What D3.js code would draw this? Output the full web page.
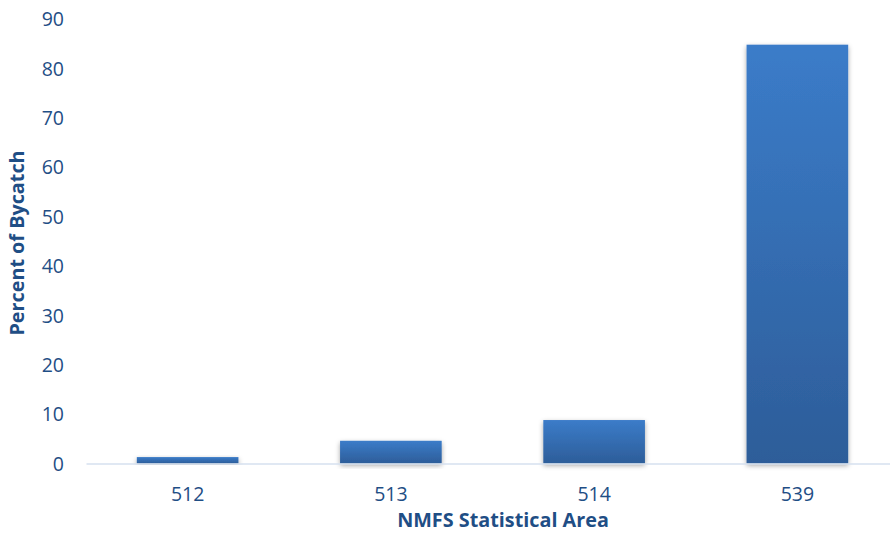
<!DOCTYPE html>
<html>
<head>
<meta charset="utf-8">
<script src="https://cdn.jsdelivr.net/npm/d3@7"></script>
<style>
  body { margin: 0; background: #fff; }
  text { font-family: "Open Sans", sans-serif; fill: #1F4E85; }
</style>
</head>
<body>
<div id="chart"></div>
<script>
// NMFS statistical areas and their share of bycatch (%)
var areas = ["512", "513", "514", "539"];
var percents = [1.3, 4.6, 8.8, 84.8];
var yTicks = [0, 10, 20, 30, 40, 50, 60, 70, 80, 90];

var width = 890, height = 533;

var svg = d3.select("#chart")
  .append("svg")
  .attr("width", width)
  .attr("height", height);

var defs = svg.append("defs");

var grad = defs.append("linearGradient")
  .attr("id", "barGrad")
  .attr("x1", 0).attr("y1", 0)
  .attr("x2", 0).attr("y2", 1);
grad.append("stop").attr("offset", "0%").attr("stop-color", "#3B7CC9");
grad.append("stop").attr("offset", "100%").attr("stop-color", "#2D5D99");

var shadow = defs.append("filter")
  .attr("id", "shadow")
  .attr("x", "-20%").attr("y", "-20%")
  .attr("width", "140%").attr("height", "140%");
shadow.append("feDropShadow")
  .attr("dx", 0).attr("dy", 2)
  .attr("stdDeviation", 2.5)
  .attr("flood-color", "#000")
  .attr("flood-opacity", 0.35);

var x = d3.scaleBand()
  .domain(areas)
  .range([86, 899])
  .paddingInner(0.5)
  .paddingOuter(0.25);

var y = d3.scaleLinear()
  .domain([0, 90])
  .range([463.5, 19]);

// y axis labels (no line, no ticks)
var yAxis = svg.append("g")
  .attr("transform", "translate(64,0)")
  .call(d3.axisLeft(y).tickValues(yTicks).tickSize(0).tickPadding(0));
yAxis.select(".domain").remove();
yAxis.selectAll("text")
  .attr("font-size", 19.5)
  .attr("dy", "0.35em");

// bars
svg.selectAll("rect.bar")
  .data(percents)
  .enter()
  .append("rect")
    .attr("class", "bar")
    .attr("x", function(d, i) { return x(areas[i]); })
    .attr("y", function(d) { return y(d); })
    .attr("width", x.bandwidth())
    .attr("height", function(d) { return y(0) - y(d); })
    .style("fill", "url(#barGrad)")
    .attr("filter", "url(#shadow)");

// x axis
var xAxis = svg.append("g")
  .attr("transform", "translate(0," + y(0) + ")")
  .call(d3.axisBottom(x).tickSize(0).tickPadding(21).tickSizeOuter(0));
xAxis.select(".domain")
  .attr("stroke", "#D6E0EF")
  .attr("stroke-width", 1.5);
xAxis.selectAll("text")
  .attr("font-size", 19.5)
  .attr("dy", "0.35em")
  .attr("y", 30.5);

svg.append("text")
  .attr("text-anchor", "middle")
  .attr("x", 503)
  .attr("y", 527)
  .attr("font-size", 19.8)
  .attr("font-weight", "bold")
  .text("NMFS Statistical Area");

svg.append("text")
  .attr("text-anchor", "middle")
  .attr("transform", "translate(24,243) rotate(-90)")
  .attr("font-size", 19.8)
  .attr("font-weight", "bold")
  .text("Percent of Bycatch");
</script>
</body>
</html>
